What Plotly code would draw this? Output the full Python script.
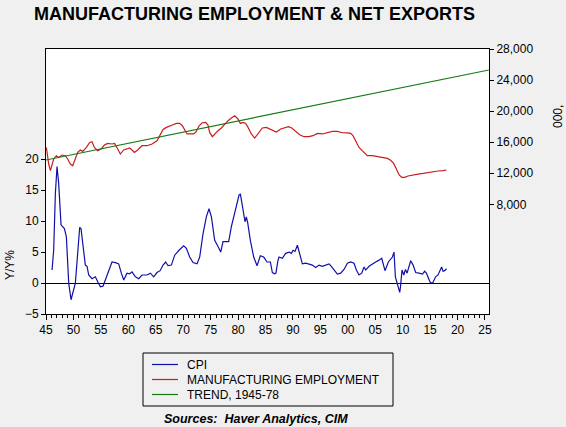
import plotly.graph_objects as go

# CPI, year-over-year % (left axis)
cpi_years = [1946.1, 1946.4, 1946.71, 1947.01, 1947.31, 1947.74, 1948.35, 1948.71, 1949.14, 1949.56,
             1950.35, 1950.84, 1951.14, 1951.38, 1951.87, 1952.17, 1952.48, 1952.78, 1953.39, 1954.0,
             1954.42, 1954.91, 1955.39, 1955.82, 1956.43, 1957.03, 1957.64, 1958.25, 1958.73, 1959.16,
             1959.77, 1960.25, 1960.68, 1961.29, 1961.89, 1962.5, 1963.41, 1964.02, 1964.63, 1965.23,
             1965.8, 1966.33, 1966.81, 1967.24, 1967.85, 1968.45, 1969.24, 1970.09, 1970.58, 1971.19,
             1971.79, 1972.52, 1973.01, 1973.62, 1974.22, 1974.71, 1975.14, 1975.74, 1976.35, 1976.84,
             1977.26, 1977.75, 1978.29, 1978.78, 1979.57, 1980.18, 1980.42, 1980.9, 1981.27, 1981.51,
             1981.76, 1982.24, 1982.85, 1983.46, 1984.06, 1984.67, 1985.28, 1985.89, 1986.25, 1986.68,
             1986.9, 1987.28, 1987.47, 1988.07, 1988.68, 1989.29, 1989.71, 1990.02, 1990.38, 1990.81,
             1991.23, 1991.72, 1992.33, 1992.93, 1993.54, 1994.15, 1994.76, 1995.36, 1995.97, 1996.58,
             1997.0, 1997.49, 1998.1, 1998.7, 1999.31, 1999.92, 2000.53, 2001.13, 2001.56, 2002.04,
             2002.53, 2002.96, 2003.26, 2003.87, 2004.48, 2005.08, 2005.69, 2006.18, 2006.78, 2007.39,
             2008.13, 2008.42, 2008.67, 2008.96, 2009.15, 2009.46, 2009.6, 2009.88, 2010.2, 2010.5,
             2010.8, 2011.1, 2011.46, 2011.9, 2012.37, 2012.97, 2013.6, 2014.0, 2014.32, 2014.74,
             2015.05, 2015.5, 2016.0, 2016.44, 2016.87, 2017.1, 2017.35, 2017.65, 2018.0]
cpi_values = [2.1, 5.3, 14.5, 18.8, 16.1, 9.4, 8.8, 7.5, 0.0, -2.7,
              0.0, 5.3, 9.0, 8.8, 5.3, 2.9, 2.7, 1.3, 0.7, 1.0,
              0.2, -0.6, -0.5, 0.5, 2.1, 3.4, 3.3, 3.1, 1.6, 0.5,
              1.6, 1.5, 1.8, 1.0, 0.7, 1.3, 1.3, 1.6, 1.0, 1.7,
              2.0, 2.9, 3.4, 2.8, 2.9, 4.5, 5.3, 6.0, 5.6, 4.2,
              3.3, 3.1, 4.2, 8.0, 10.7, 12.0, 10.7, 6.9, 5.9, 5.0,
              6.7, 6.7, 6.7, 9.1, 11.8, 14.2, 14.4, 11.8, 9.9, 10.7,
              9.7, 6.9, 4.2, 2.8, 4.4, 4.2, 3.4, 3.4, 1.7, 1.5,
              1.6, 3.7, 4.2, 4.0, 4.8, 5.0, 4.8, 5.3, 5.1, 6.1,
              4.5, 3.1, 3.2, 3.1, 2.9, 2.5, 2.9, 2.7, 2.9, 3.1,
              2.7, 2.2, 1.45, 1.6, 2.2, 3.2, 3.4, 3.2, 2.1, 1.3,
              1.6, 2.6, 2.1, 2.7, 3.1, 3.4, 3.7, 4.0, 2.0, 3.4,
              4.2, 5.0, 1.0, 0.0, -0.6, -1.5, -0.6, 2.1, 1.3, 2.2,
              1.6, 2.6, 3.6, 2.9, 1.7, 1.6, 1.45, 1.9, 1.6, 0.7,
              0.05, 0.05, 1.0, 1.3, 2.1, 2.6, 1.9, 2.0, 2.3]

# Manufacturing employment, thousands (right axis)
mfg_years = [1945.07, 1945.49, 1945.8, 1946.1, 1946.4, 1946.89, 1947.31, 1947.92, 1948.53, 1948.95,
             1949.44, 1949.87, 1950.35, 1950.78, 1951.26, 1951.7, 1952.36, 1952.96, 1953.39, 1953.81,
             1954.42, 1955.03, 1955.64, 1956.24, 1957.03, 1957.5, 1958.07, 1958.55, 1959.16, 1959.77,
             1960.25, 1960.68, 1961.1, 1961.71, 1962.5, 1963.41, 1964.32, 1965.23, 1965.8, 1966.33,
             1966.94, 1967.54, 1968.15, 1968.76, 1969.36, 1969.85, 1970.28, 1970.7, 1971.31, 1971.92,
             1972.4, 1972.89, 1973.5, 1974.1, 1974.5, 1974.83, 1975.32, 1975.74, 1976.35, 1976.96,
             1977.57, 1978.17, 1978.78, 1979.39, 1979.99, 1980.42, 1980.9, 1981.39, 1981.82, 1982.42,
             1983.03, 1983.64, 1984.43, 1985.16, 1986.07, 1986.98, 1987.77, 1988.38, 1989.17, 1989.78,
             1990.5, 1991.23, 1992.02, 1992.93, 1993.66, 1994.45, 1995.36, 1996.27, 1997.19, 1998.1,
             1999.01, 1999.92, 2000.53, 2000.95, 2001.44, 2002.04, 2002.77, 2003.56, 2004.48, 2005.39,
             2006.3, 2007.21, 2007.8, 2008.36, 2008.85, 2009.33, 2009.82, 2010.37, 2010.97, 2011.88,
             2012.8, 2013.71, 2014.62, 2015.53, 2016.44, 2017.35, 2017.96]
mfg_values = [15330, 13190, 12330, 12970, 13840, 14260, 14040, 14350, 14260, 13840,
              13190, 12970, 13840, 14690, 15000, 14820, 15330, 15970, 16060, 15330,
              14900, 15120, 15640, 15850, 15770, 15850, 15120, 14480, 15000, 15120,
              15250, 15000, 14690, 15000, 15550, 15550, 15770, 16190, 16900, 17650,
              17910, 18120, 18250, 18420, 18420, 18120, 17480, 17060, 17060, 17060,
              17390, 18120, 18510, 18550, 18250, 17260, 16710, 17060, 17480, 17830,
              18340, 18770, 19120, 19410, 18990, 18420, 18550, 18420, 17910, 17060,
              16540, 17060, 17830, 17910, 17570, 17300, 17700, 17830, 18000, 17830,
              17390, 16970, 16710, 16710, 16840, 17130, 17060, 17260, 17390, 17390,
              17220, 17190, 17130, 16840, 16190, 15330, 14820, 14260, 14260, 14170,
              14040, 13910, 13680, 13270, 12550, 11810, 11470, 11470, 11650, 11810,
              11900, 11980, 12110, 12240, 12290, 12330, 12420]

# Trend, 1945-78 (right axis)
trend_years = [1945, 1988, 2025.7]
trend_values = [13710, 19880, 25300]

x_tick_years = [1945, 1950, 1955, 1960, 1965, 1970, 1975, 1980, 1985,
                1990, 1995, 2000, 2005, 2010, 2015, 2020, 2025]
x_tick_labels = ['45', '50', '55', '60', '65', '70', '75', '80', '85',
                 '90', '95', '00', '05', '10', '15', '20', '25']
left_ticks = [-5, 0, 5, 10, 15, 20]
right_ticks = [8000, 12000, 16000, 20000, 24000, 28000]

series_names = ['CPI', 'MANUFACTURING EMPLOYMENT', 'TREND, 1945-78']
series_colors = ['#1010a8', '#c81e1e', '#167a16']

# plot area in pixels: left 46, right 489, top 49, bottom 314
def px_x(x):
    return (x - 46) / 443

def px_y(y):
    return (314 - y) / 265

fig = go.Figure()
fig.add_trace(go.Scatter(x=cpi_years, y=cpi_values, mode='lines', name=series_names[0],
                         line=dict(color=series_colors[0], width=1.2)))
fig.add_trace(go.Scatter(x=mfg_years, y=mfg_values, mode='lines', name=series_names[1],
                         line=dict(color=series_colors[1], width=1.2), yaxis='y2'))
fig.add_trace(go.Scatter(x=trend_years, y=trend_values, mode='lines', name=series_names[2],
                         line=dict(color=series_colors[2], width=1.2), yaxis='y2'))

# legend box drawn by hand (plotly rows are too tall)
shapes = [dict(type='rect', xref='paper', yref='paper', x0=px_x(143), x1=px_x(393),
               y0=px_y(406), y1=px_y(353), line=dict(color='black', width=1))]
annotations = []
for i, (name, color) in enumerate(zip(series_names, series_colors)):
    row = 364.5 + i * 15
    shapes.append(dict(type='line', xref='paper', yref='paper', x0=px_x(152), x1=px_x(178),
                       y0=px_y(row), y1=px_y(row), line=dict(color=color, width=1.2)))
    annotations.append(dict(text=name, x=px_x(185), y=px_y(row), xref='paper', yref='paper',
                            xanchor='left', yanchor='middle', showarrow=False,
                            font=dict(size=12)))

annotations += [
    dict(text='<b>MANUFACTURING EMPLOYMENT & NET EXPORTS</b>', x=px_x(32), y=px_y(14),
         xref='paper', yref='paper', xanchor='left', yanchor='middle', showarrow=False,
         font=dict(size=18)),
    dict(text='Y/Y%', textangle=-90, x=px_x(10), y=px_y(265), xanchor='center', yanchor='middle',
         xref='paper', yref='paper', showarrow=False, font=dict(size=12)),
    dict(text='000,', textangle=-90, x=px_x(558), y=px_y(117), xanchor='center', yanchor='middle',
         xref='paper', yref='paper', showarrow=False, font=dict(size=12)),
    dict(text='<b><i>Sources:&nbsp; Haver Analytics, CIM</i></b>', x=px_x(256), y=px_y(419),
         xanchor='center', yanchor='middle', xref='paper', yref='paper', showarrow=False,
         font=dict(size=12.5)),
]

fig.update_layout(
    width=566, height=427,
    paper_bgcolor='#f0f0f0', plot_bgcolor='white',
    margin=dict(l=46, r=77, t=49, b=113, autoexpand=False),
    font=dict(family='Arial', size=12, color='black'),
    showlegend=False,
    xaxis=dict(range=[1945, 2025.73], tickmode='array', tickvals=x_tick_years, ticktext=x_tick_labels,
               ticks='outside', ticklen=5, tickcolor='black', showline=True, linecolor='black',
               mirror=True, showgrid=False, zeroline=False,
               minor=dict(tickmode='linear', tick0=1945, dtick=1, ticks='outside', ticklen=3,
                          tickcolor='black', showgrid=False)),
    yaxis=dict(range=[-5, 37.8], tickmode='array', tickvals=left_ticks, ticks='outside', ticklen=4,
               tickcolor='black', showline=True, linecolor='black', mirror=True, showgrid=False,
               zeroline=True, zerolinecolor='black', zerolinewidth=1),
    yaxis2=dict(range=[-6120, 28000], overlaying='y', side='right', tickmode='array',
                tickvals=right_ticks, tickformat=',', ticks='outside', ticklen=4, tickcolor='black',
                showline=True, linecolor='black', showgrid=False, zeroline=False),
    shapes=shapes,
    annotations=annotations,
)

# drop the browser's default 8px body margin so the figure sits at the page corner
fig.write_html('out.html', config={'displayModeBar': False},
               post_script="document.body.style.margin='0';"
                           "document.body.style.background='#f0f0f0';")
